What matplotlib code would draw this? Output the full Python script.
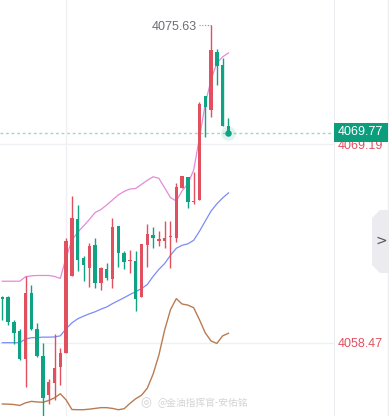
import numpy as np
import matplotlib
matplotlib.use("Agg")
import matplotlib.pyplot as plt
from matplotlib.patches import Polygon, Rectangle

# ---- candle data (price)
opens = [4060.96, 4060.92, 4059.61, 4059.11, 4057.58, 4061.16, 4059.22, 4057.75, 4055.63, 4056.30,
         4057.17, 4057.93, 4062.06, 4065.15, 4063.03, 4062.52, 4063.73, 4061.70, 4062.47, 4061.92,
         4064.78, 4063.30, 4062.88, 4062.88, 4060.92, 4063.75, 4064.28, 4063.97, 4063.97, 4064.18,
         4064.15, 4066.81, 4067.41, 4066.07, 4066.18, 4071.80, 4071.04, 4074.16, 4073.47, 4070.18]
highs = [4060.97, 4060.97, 4059.71, 4059.22, 4062.06, 4061.56, 4059.53, 4058.44, 4056.53, 4058.95,
         4058.17, 4064.11, 4066.41, 4065.91, 4063.15, 4063.83, 4064.15, 4062.57, 4062.79, 4065.20,
         4064.78, 4063.42, 4063.48, 4063.42, 4063.79, 4064.88, 4064.70, 4064.51, 4065.06, 4065.06,
         4067.08, 4067.50, 4067.41, 4067.70, 4071.48, 4071.80, 4075.63, 4074.34, 4073.84, 4070.60]
lows = [4059.71, 4059.40, 4058.38, 4057.53, 4056.08, 4059.16, 4057.71, 4054.50, 4055.14, 4055.39,
        4056.17, 4057.93, 4062.06, 4062.33, 4061.79, 4061.46, 4061.43, 4061.34, 4061.88, 4061.43,
        4062.57, 4062.43, 4062.21, 4060.16, 4060.92, 4062.55, 4063.61, 4063.70, 4063.61, 4062.52,
        4063.91, 4066.81, 4065.75, 4065.97, 4066.18, 4069.60, 4070.65, 4072.37, 4070.20, 4069.77]
closes = [4060.85, 4059.61, 4058.98, 4057.57, 4061.16, 4059.20, 4057.75, 4055.50, 4056.35, 4057.08,
          4057.93, 4063.97, 4065.20, 4062.93, 4062.66, 4063.70, 4061.70, 4062.52, 4061.94, 4064.70,
          4063.30, 4062.85, 4062.93, 4060.85, 4063.79, 4064.33, 4064.15, 4064.06, 4064.15, 4064.24,
          4066.90, 4067.48, 4066.05, 4066.12, 4071.37, 4071.19, 4074.29, 4073.43, 4070.20, 4069.77]

# ---- band lines
upper = [4061.79, 4061.79, 4061.79, 4061.79, 4062.03, 4062.08, 4062.10, 4062.10, 4062.10, 4062.05,
         4061.94, 4063.08, 4064.00, 4064.44, 4064.77, 4065.12, 4065.50, 4065.66, 4065.91, 4066.18,
         4066.45, 4066.64, 4066.77, 4066.80, 4067.02, 4067.24, 4067.43, 4067.35, 4066.83, 4066.31,
         4066.12, 4066.67, 4067.05, 4067.80, 4069.53, 4071.37, 4072.67, 4073.58, 4073.91, 4074.12]
middle = [4058.47, 4058.47, 4058.47, 4058.47, 4058.67, 4058.74, 4058.75, 4058.77, 4058.77, 4058.78,
          4058.84, 4059.22, 4059.54, 4059.76, 4059.90, 4060.03, 4060.14, 4060.28, 4060.40, 4060.58,
          4060.74, 4060.90, 4061.07, 4061.23, 4061.39, 4061.61, 4062.05, 4062.43, 4062.75, 4063.19,
          4063.57, 4063.73, 4063.81, 4064.00, 4064.49, 4065.04, 4065.58, 4065.97, 4066.29, 4066.56]
lower = [4055.16, 4055.15, 4055.13, 4055.08, 4055.22, 4055.30, 4055.27, 4055.25, 4055.35, 4055.49,
         4055.71, 4055.38, 4054.86, 4054.85, 4054.85, 4054.88, 4054.92, 4054.96, 4054.96, 4054.92,
         4054.85, 4054.90, 4055.19, 4055.44, 4055.63, 4056.01, 4056.77, 4057.80, 4059.16, 4060.25,
         4060.85, 4060.56, 4060.50, 4060.36, 4059.71, 4059.00, 4058.56, 4058.43, 4058.84, 4058.98]

axis_ticks = [4069.19, 4058.47]
last_price = 4069.77
watermark = "@金油指挥官-安佑铭"

RED, GREEN = "#e0505e", "#0fa383"
W, H = 389, 416

fig = plt.figure(figsize=(W / 100, H / 100), dpi=100)
ax = fig.add_axes([0, 0, 334 / W, 1])
axp = fig.add_axes([334 / W, 0, 1 - 334 / W, 1], sharey=ax)

o, h, l, c = map(np.array, (opens, highs, lows, closes))
x = np.arange(len(o))
up = c >= o
col = np.where(up, RED, GREEN)

ax.vlines(x, l, h, colors=col, lw=1.0, zorder=3)
body = np.maximum(np.abs(c - o), 0.07)
ax.bar(x, body, bottom=np.minimum(o, c), width=0.6, color=col, lw=0, zorder=4)

ax.plot(x, upper, color="#e48ad9", lw=0.9, zorder=2)
ax.plot(x, middle, color="#7b8cf6", lw=0.9, zorder=2)
ax.plot(x, lower, color="#b97c52", lw=1.0, zorder=2)

# last price dotted line + glowing dot
ax.axhline(last_price, color="#9fd8c6", lw=1.0, ls=(0, (2, 2)), zorder=1)
ax.scatter([x[-1]], [c[-1]], s=110, color=GREEN, alpha=0.12, lw=0, zorder=5)
ax.scatter([x[-1]], [c[-1]], s=22, color=GREEN, lw=0, zorder=6)

# max label
hi = int(np.argmax(h))
ax.annotate(f"{h[hi]:.2f}", xy=(hi, h[hi]), xytext=(-14, -2), textcoords="offset pixels",
            ha="right", va="center", fontsize=9, color="#6b6e78", family="Liberation Sans")
ax.plot([hi - 2.0, hi], [h[hi], h[hi]], color="#8a8d96", lw=0.8, ls=(0, (1, 1.5)))

ax.set_xlim(-0.4, 57.2)
ax.set_ylim(4054.51, 4076.98)
ax.set_xticks([11])
ax.set_yticks(axis_ticks)
ax.grid(True, color="#eef0f4", lw=1.0, zorder=0)
ax.tick_params(left=False, bottom=False, labelleft=False, labelbottom=False)
for s in ax.spines.values():
    s.set_visible(False)

# price panel
axp.set_xlim(0, 1)
axp.axis("off")
axp.axvline(0.0, color="#e8e9ee", lw=1.2)
axp.axvline(0.985, color="#eeeff3", lw=1.0)
for t in axis_ticks:
    axp.annotate(f"{t:.2f}", xy=(0.07, t), xytext=(0, -1.5), textcoords="offset pixels",
                 color=RED, fontsize=9, va="center", ha="left", family="Liberation Sans")
axp.add_patch(Rectangle((0.0, last_price - 0.44), 0.985, 0.99, fc="#0b9d7c", ec="none", zorder=4))
axp.annotate(f"{last_price:.2f}", xy=(0.07, last_price), xytext=(0, 1), textcoords="offset pixels",
             color="white", fontsize=9, va="center", ha="left", family="Liberation Sans", zorder=5)

# collapse tab on right edge
def px(xp, yp):
    return ((xp - 334) / 55, 1 - yp / H)

tab = Polygon([px(389, 210), px(380, 210), px(372, 218), px(372, 265), px(380, 273), px(389, 273)],
              closed=True, transform=axp.transAxes, fc="#ebebf0", ec="none", zorder=3)
axp.add_patch(tab)
axp.text(*px(381, 241), ">", transform=axp.transAxes, fontsize=10,
         color="#55585f", ha="center", va="center", zorder=4)

# watermark
fig.text(157 / W, 1 - 403 / H, watermark, fontsize=7, color="#cfcfd2", alpha=0.9,
         va="center", ha="left", family=["Noto Sans CJK SC", "DejaVu Sans"])
fig.text(146 / W, 1 - 403 / H, "◎", fontsize=9, color="#cfcfd2", va="center", ha="center",
         family=["DejaVu Sans"])

fig.savefig("out.png", dpi=100)
